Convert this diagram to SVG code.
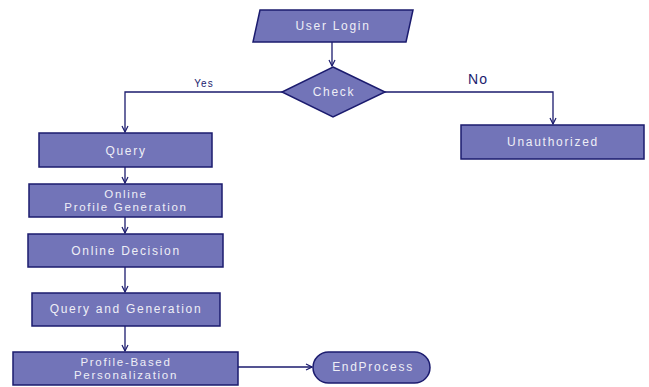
<svg xmlns="http://www.w3.org/2000/svg" width="649" height="387" viewBox="0 0 649 387">
<defs>
<marker id="ah" markerWidth="8" markerHeight="8" refX="7" refY="4" orient="auto" markerUnits="userSpaceOnUse">
<path d="M1,1 L7,4 L1,7" fill="none" stroke="#1b1b6e" stroke-width="1.2"/>
</marker>
</defs>
<style>
.n{fill:#7274b8;stroke:#1b1b6e;stroke-width:1.5}
.t{font-family:"Liberation Sans",Arial,sans-serif;font-size:12px;letter-spacing:1.7px;fill:#eeeef6;text-anchor:middle;dominant-baseline:central}
.s{font-size:11.5px}
.c{fill:none;stroke:#1b1b6e;stroke-width:1.3}
.l{font-family:"Liberation Sans",Arial,sans-serif;fill:#1b1b6e;text-anchor:middle;dominant-baseline:central;letter-spacing:1px}
</style>
<rect width="649" height="387" fill="#ffffff"/>
<g id="connectors">
<path class="c" d="M332,42 V66" marker-end="url(#ah)"/>
<path class="c" d="M282,92 H125 V132" marker-end="url(#ah)"/>
<path class="c" d="M385,92 H553 V124" marker-end="url(#ah)"/>
<path class="c" d="M125,167 V183" marker-end="url(#ah)"/>
<path class="c" d="M125,217 V233" marker-end="url(#ah)"/>
<path class="c" d="M125,267 V292" marker-end="url(#ah)"/>
<path class="c" d="M125,326 V351" marker-end="url(#ah)"/>
<path class="c" d="M238,367 H312" marker-end="url(#ah)"/>
<text class="l" x="204" y="83" font-size="10">Yes</text>
<text class="l" x="478" y="79" font-size="14">No</text>
</g>
<g id="userlogin">
<polygon class="n" points="260,10 413,10 406,42 253,42"/>
<text class="t" x="333" y="26">User Login</text>
</g>
<g id="check">
<polygon class="n" points="333,67 385,92 333,117 282,92"/>
<text class="t" x="334" y="92">Check</text>
</g>
<g id="query">
<rect class="n" x="39" y="133" width="173" height="34"/>
<text class="t" x="126" y="151">Query</text>
</g>
<g id="unauthorized">
<rect class="n" x="461" y="125" width="183" height="34"/>
<text class="t" x="553" y="142">Unauthorized</text>
</g>
<g id="profilegen">
<rect class="n" x="29" y="184" width="193" height="33"/>
<text class="t s" x="126" y="193.5">Online</text>
<text class="t s" x="126" y="207">Profile Generation</text>
</g>
<g id="decision">
<rect class="n" x="28" y="234" width="195" height="33"/>
<text class="t" x="126" y="251">Online Decision</text>
</g>
<g id="querygen">
<rect class="n" x="32" y="293" width="188" height="33"/>
<text class="t" x="126" y="309">Query and Generation</text>
</g>
<g id="personalization">
<rect class="n" x="13" y="352" width="225" height="33"/>
<text class="t s" x="126" y="361.5">Profile-Based</text>
<text class="t s" x="126" y="375">Personalization</text>
</g>
<g id="endprocess">
<rect class="n" x="313" y="352" width="117" height="31" rx="15.5" ry="15.5"/>
<text class="t" x="373" y="367">EndProcess</text>
</g>
</svg>
